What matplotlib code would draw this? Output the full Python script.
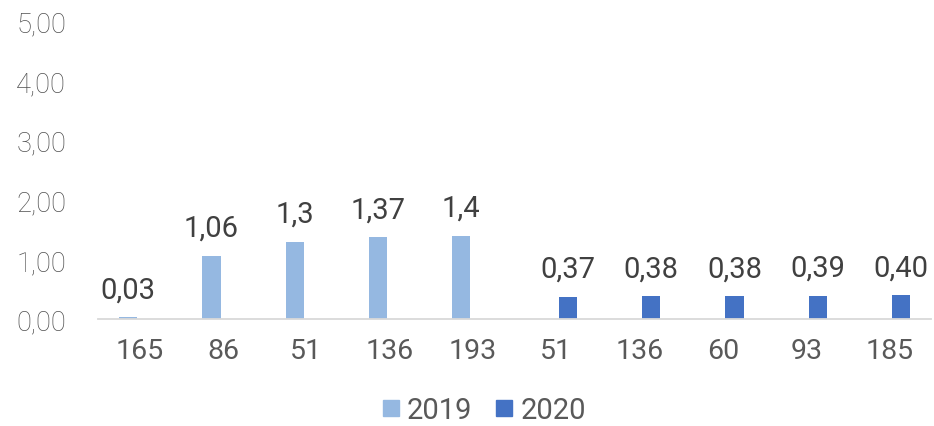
import numpy as np
import matplotlib
matplotlib.use('Agg')
import matplotlib.pyplot as plt
from matplotlib.lines import Line2D

plt.rcParams['font.family'] = ['Roboto', 'DejaVu Sans']

categories = ['165', '86', '51', '136', '193', '51', '136', '60', '93', '185']
values_2019 = [0.03, 1.06, 1.3, 1.37, 1.4, np.nan, np.nan, np.nan, np.nan, np.nan]
values_2020 = [np.nan, np.nan, np.nan, np.nan, np.nan, 0.37, 0.38, 0.38, 0.39, 0.40]
labels_2019 = ['0,03', '1,06', '1,3', '1,37', '1,4', '', '', '', '', '']
labels_2020 = ['', '', '', '', '', '0,37', '0,38', '0,38', '0,39', '0,40']
yticks = [0, 1, 2, 3, 4, 5]
ytick_labels = ['0,00', '1,00', '2,00', '3,00', '4,00', '5,00']

c2019 = '#95B8E1'
c2020 = '#4472C4'

fig = plt.figure(figsize=(9.34, 4.27), dpi=100)
ax = fig.add_axes([0.105, 0.2506, 0.892, 0.6979])

x = np.arange(len(categories))
w = 0.22
off = 0.14
b1 = ax.bar(x - off, values_2019, w, color=c2019)
b2 = ax.bar(x + off, values_2020, w, color=c2020)

for bars, labels in ((b1, labels_2019), (b2, labels_2020)):
    for bar, lab in zip(bars, labels):
        if lab:
            ax.annotate(lab, (bar.get_x() + bar.get_width() / 2, bar.get_height()),
                        xytext=(0, 10), textcoords='offset points',
                        ha='center', va='bottom', fontsize=21, color='#404040')

ax.set_xlim(-0.5, len(categories) - 0.5)
ax.set_ylim(0, 5)
ax.set_xticks(x)
ax.set_xticklabels(categories, fontsize=20.5, color='#595959')
ax.set_yticks(yticks)
ax.set_yticklabels(ytick_labels, fontsize=19.7, color='#505050', fontweight='light')
ax.tick_params(length=0)
ax.tick_params(axis='x', pad=13)
ax.tick_params(axis='y', pad=23)
for s in ('top', 'right', 'left'):
    ax.spines[s].set_visible(False)
ax.spines['bottom'].set_color('#D9D9D9')
ax.spines['bottom'].set_linewidth(1.3)

handles = [Line2D([], [], marker='s', linestyle='', markersize=11.5, color=c2019),
           Line2D([], [], marker='s', linestyle='', markersize=11.5, color=c2020)]
fig.legend(handles, ['2019', '2020'], loc='center', bbox_to_anchor=(0.515, 0.037),
           ncol=2, frameon=False, fontsize=21, labelcolor='#595959',
           handletextpad=0.05, columnspacing=0.6, handlelength=1.0,
           borderpad=0.0)

fig.savefig('out.png', dpi=100)
